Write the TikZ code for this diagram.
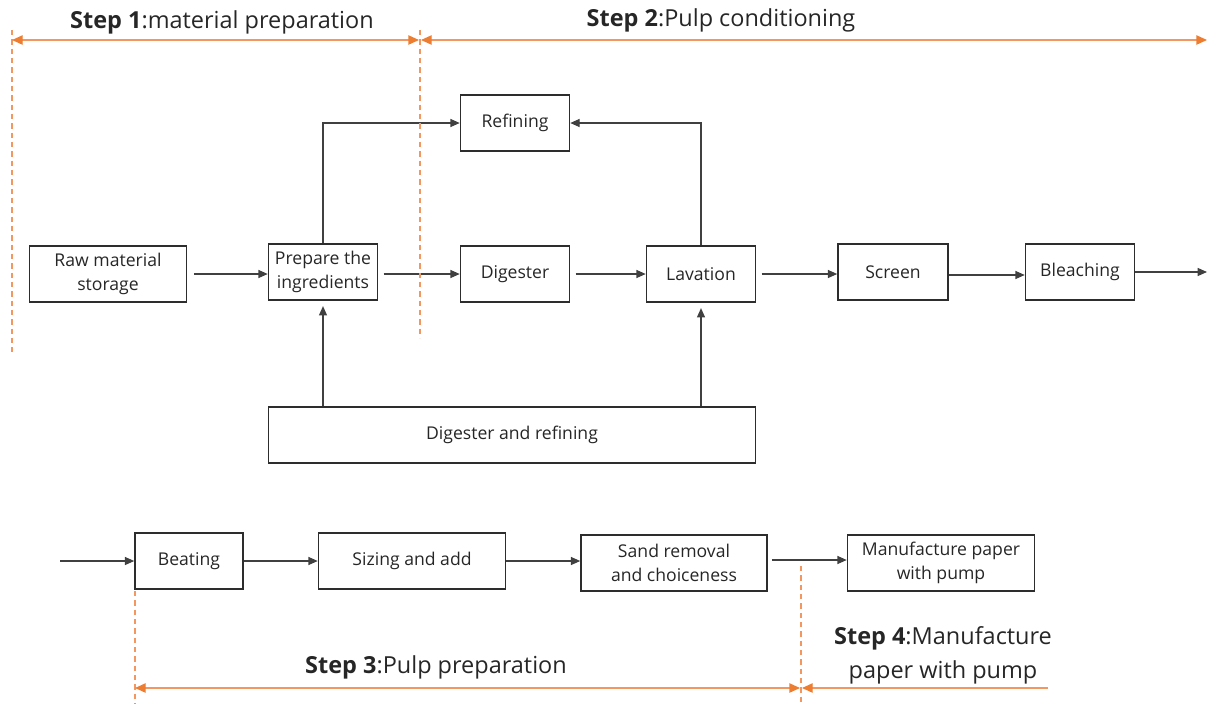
\documentclass[tikz,border=0pt]{standalone}
\usepackage{fontspec}
\setmainfont{Open Sans}
\usetikzlibrary{arrows.meta}
\definecolor{orline}{RGB}{244,150,95}
\definecolor{orhead}{RGB}{237,125,49}
\definecolor{bx}{RGB}{45,45,45}
\tikzset{
  box/.style={draw=bx, line width=1.15pt, minimum height=56*0.75pt, align=center, font=\fontsize{13.2}{18}\selectfont, inner sep=0pt, text=black!85},
  flow/.style={draw=black!75, line width=0.9pt, -{Triangle[length=7pt,width=6pt]}},
  stepline/.style={draw=orline, line width=1pt},
  stepdash/.style={draw=orline, line width=0.9pt, dash pattern=on 4pt off 3pt},
  steparr/.style={stepline, {Triangle[length=8pt,width=7pt,color=orhead]}-{Triangle[length=8pt,width=7pt,color=orhead]}},
  steparrl/.style={stepline, {Triangle[length=8pt,width=7pt,color=orhead]}-},
  steplbl/.style={font=\fontsize{17.6}{25.5}\selectfont, text=black!85, inner sep=0pt, align=center}
}
\begin{document}
\begin{tikzpicture}[x=0.75pt,y=-0.75pt]
\useasboundingbox (0,0) rectangle (1207,704);
% boxes
\node[box, minimum width=157*0.75pt] (raw) at (108,274) {Raw material\\storage};
\node[box, minimum width=109*0.75pt] (prep) at (323,272) {Prepare the\\ingredients};
\node[box, minimum width=109*0.75pt] (dig) at (515,274) {Digester};
\node[box, minimum width=109*0.75pt] (lav) at (701,274) {Lavation};
\node[box, minimum width=110*0.75pt] (scr) at (893,272) {Screen};
\node[box, minimum width=109*0.75pt] (ble) at (1080,272) {Bleaching};
\node[box, minimum width=109*0.75pt] (ref) at (515,123) {Refining};
\node[box, minimum width=487*0.75pt] (dr) at (512,435) {Digester and refining};
\node[box, minimum width=108*0.75pt] (beat) at (189,561) {Beating};
\node[box, minimum width=187*0.75pt] (size) at (412,561) {Sizing and add};
\node[box, minimum width=186*0.75pt] (sand) at (674,563) {Sand removal\\and choiceness};
\node[box, minimum width=187*0.75pt] (manu) at (941,563) {Manufacture paper\\with pump};
% coordinates
\coordinate (bleout) at (1207,272);
\coordinate (beatin) at (60,561);
\coordinate (c1) at (323,123);
\coordinate (c2) at (701,123);
% flows
\draw[flow, shorten <=5pt] (raw.east) -- (prep.west |- raw.east);
\draw[flow, shorten <=4pt] (prep.east |- dig.west) -- (dig.west);
\draw[flow, shorten <=4pt] (dig.east) -- (lav.west);
\draw[flow, shorten <=4pt] (lav.east) -- (scr.west |- lav.east);
\draw[flow] ([yshift=-3*0.75pt]scr.east) -- ([yshift=-3*0.75pt]ble.west);
\draw[flow] (ble.east) -- (bleout);
\draw[flow] (prep.north) -- (c1) -- (ref.west);
\draw[flow] (lav.north) -- (c2) -- (ref.east);
\draw[flow, shorten >=4pt] (dr.north -| prep.south) -- (prep.south);
\draw[flow, shorten >=4pt] (dr.north -| lav.south) -- (lav.south);
\draw[flow] (beatin) -- (beat.west);
\draw[flow] (beat.east) -- (size.west);
\draw[flow] (size.east) -- (sand.west |- size.east);
\draw[flow, shorten <=3pt] (sand.east |- 0,560) -- (manu.west |- 0,560);
% step markers
\coordinate (d1t) at (12,30); \coordinate (d1b) at (12,352);
\coordinate (d2t) at (420,30); \coordinate (d2b) at (420,338);
\coordinate (d3t) at (135,591); \coordinate (d3b) at (135,704);
\coordinate (d4t) at (801,566); \coordinate (d4b) at (801,704);
\draw[stepdash] (d1t) -- (d1b);
\draw[stepdash] (d2t) -- (d2b);
\draw[stepdash] (d3t) -- (d3b);
\draw[stepdash] (d4t) -- (d4b);
\coordinate (a1l) at (12,40); \coordinate (a1r) at (419,40);
\coordinate (a2l) at (421,40); \coordinate (a2r) at (1207,40);
\coordinate (a3l) at (135,688); \coordinate (a3r) at (800,688);
\coordinate (a4l) at (802,688); \coordinate (a4r) at (1048,688);
\draw[steparr] (a1l) -- (a1r);
\draw[steparr] (a2l) -- (a2r);
\draw[steparr] (a3l) -- (a3r);
\draw[steparrl] (a4l) -- (a4r);
% step labels
\node[steplbl] (s1) at (222,22) {\textbf{Step 1}:material preparation};
\node[steplbl] (s2) at (721,20) {\textbf{Step 2}:Pulp conditioning};
\node[steplbl] (s3) at (436,667) {\textbf{Step 3}:Pulp preparation};
\node[steplbl] (s4) at (943,655) {\textbf{Step 4}:Manufacture\\paper with pump};
\end{tikzpicture}
\end{document}
